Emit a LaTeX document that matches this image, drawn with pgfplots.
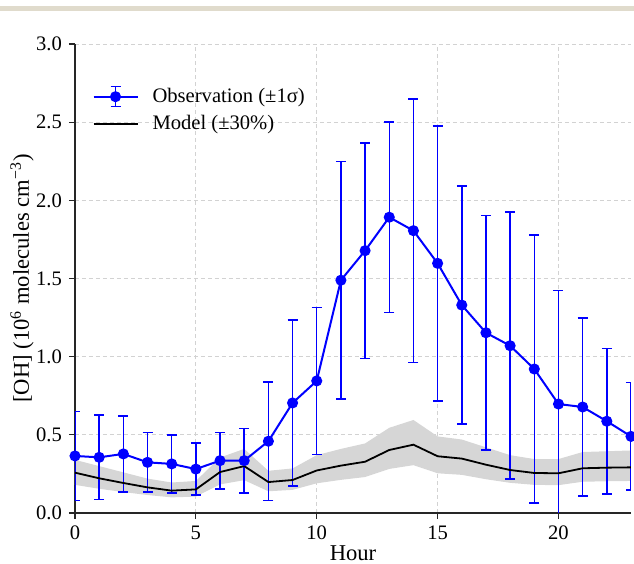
\documentclass[border=0pt]{standalone}
\usepackage{fontspec}
\setmainfont{Liberation Serif}
\usepackage{pgfplots}
\usepackage{pgfplotstable}
\pgfplotsset{compat=1.18}
\usepgfplotslibrary{fillbetween}
\definecolor{beige}{RGB}{224,219,204}
\definecolor{obsblue}{RGB}{0,0,255}

\pgfplotstableread{
h y e
0 0.365 0.285
1 0.356 0.270
2 0.378 0.243
3 0.324 0.191
4 0.314 0.185
5 0.281 0.167
6 0.335 0.181
7 0.335 0.207
8 0.459 0.380
9 0.704 0.532
10 0.845 0.470
11 1.489 0.760
12 1.678 0.690
13 1.892 0.608
14 1.806 0.843
15 1.597 0.879
16 1.330 0.762
17 1.153 0.750
18 1.070 0.854
19 0.921 0.857
20 0.697 0.725
21 0.678 0.570
22 0.587 0.466
23 0.490 0.344
}\obs

\pgfplotstableread{
h m lo hi
0 0.258 0.180 0.340
1 0.222 0.155 0.300
2 0.192 0.134 0.260
3 0.164 0.115 0.220
4 0.143 0.100 0.195
5 0.151 0.105 0.205
6 0.262 0.183 0.355
7 0.300 0.210 0.410
8 0.198 0.139 0.270
9 0.211 0.148 0.285
10 0.272 0.190 0.370
11 0.303 0.212 0.410
12 0.328 0.230 0.445
13 0.403 0.282 0.545
14 0.437 0.306 0.595
15 0.363 0.254 0.490
16 0.348 0.244 0.470
17 0.309 0.216 0.420
18 0.275 0.193 0.370
19 0.256 0.180 0.345
20 0.254 0.178 0.345
21 0.286 0.200 0.390
22 0.290 0.203 0.395
23 0.292 0.205 0.400
}\model

\begin{document}
\begin{tikzpicture}
\begin{axis}[
  name=ax,
  width=278pt, height=234.5pt,
  scale only axis,
  xmin=0, xmax=23, ymin=0, ymax=3,
  xtick={0,5,10,15,20},
  ytick={0,0.5,1,1.5,2,2.5,3},
  yticklabel style={/pgf/number format/.cd, fixed, fixed zerofill, precision=1},
  /pgf/number format/assume math mode=true,
  ticklabel style={font=\fontsize{10.3}{12}\selectfont},
  axis x line*=bottom, axis y line*=left,
  axis line style={black!85, line width=0.6pt},
  tick align=outside,
  major tick length=3pt,
  tick style={black!85, line width=0.6pt},
  grid=major,
  major grid style={dash pattern=on 2pt off 1.5pt, gray!35, line width=0.4pt},
  xlabel={Hour},
  ylabel={[OH] (10\textsuperscript{6} molecules cm\textsuperscript{−3})},
  label style={font=\fontsize{11.3}{13}\selectfont},
  xlabel style={at={(axis description cs:0.5,-0.085)}, anchor=center},
  ylabel style={at={(axis description cs:-0.0953,0.5)}, anchor=center},
  legend style={at={(axis description cs:0.02,0.924)}, anchor=north west,
    draw=none, fill=none, row sep=1pt, font=\fontsize{10.3}{12}\selectfont,
    legend cell align=left,
    /tikz/every odd column/.append style={column sep=5pt}},
]
\addplot[name path=hi, draw=none, forget plot] table[x=h, y=hi]{\model};
\addplot[name path=lo, draw=none, forget plot] table[x=h, y=lo]{\model};
\addplot[black!16, forget plot] fill between[of=hi and lo];

\addplot[obsblue, line width=1pt, mark=*, mark size=2.25pt,
  mark options={fill=obsblue, draw=obsblue},
  legend image code/.code={
    \draw[obsblue, line width=1pt] (0pt,0pt) -- (22pt,0pt);
    \draw[obsblue, line width=0.75pt] (11pt,-5pt) -- (11pt,5pt);
    \draw[obsblue, line width=0.75pt] (8.5pt,-5pt) -- (13.5pt,-5pt);
    \draw[obsblue, line width=0.75pt] (8.5pt,5pt) -- (13.5pt,5pt);
    \fill[obsblue] (11pt,0pt) circle (2.25pt);
  },
  error bars/.cd, y dir=both, y explicit,
  error bar style={line width=0.75pt, obsblue},
  error mark options={rotate=90, mark size=2.5pt, line width=0.75pt, obsblue},
  ] table[x=h, y=y, y error=e]{\obs};
\addlegendentry{Observation (±1σ)}

\addplot[black, line width=0.9pt,
  legend image code/.code={
    \draw[black, line width=0.9pt] (0pt,0pt) -- (22pt,0pt);
  }] table[x=h, y=m]{\model};
\addlegendentry{Model (±30\%)}
\end{axis}
\fill[beige] ([xshift=-37.5pt,yshift=16.5pt]ax.north west) rectangle ([xshift=1.5pt,yshift=19pt]ax.north east);
\pgfresetboundingbox
\path[use as bounding box] ([xshift=-37.5pt,yshift=-25.5pt]ax.south west) rectangle ([xshift=1.5pt,yshift=22pt]ax.north east);
\end{tikzpicture}
\end{document}
